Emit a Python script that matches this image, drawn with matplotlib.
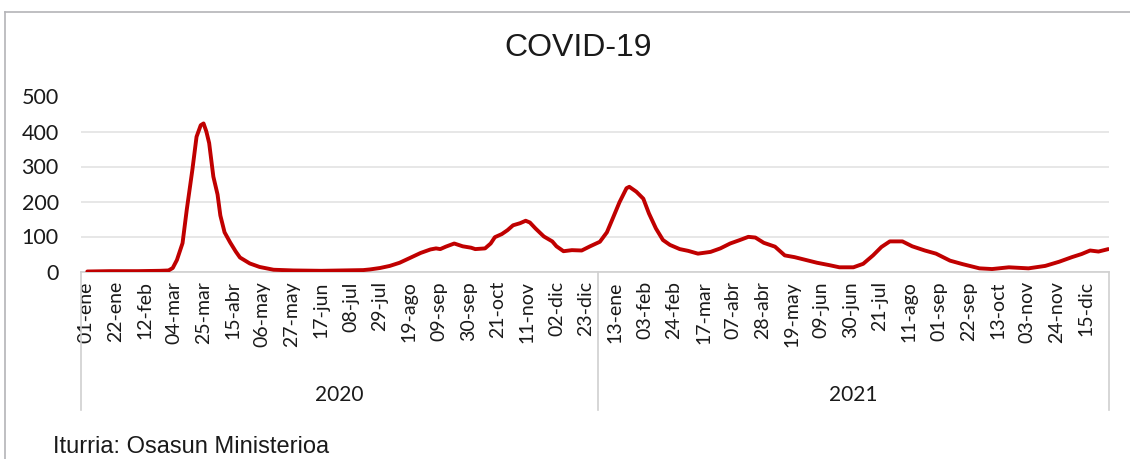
import datetime as dt
import matplotlib
matplotlib.use("Agg")
import matplotlib.pyplot as plt
from matplotlib.lines import Line2D
import matplotlib.transforms as mtransforms

# ---- data (day offset from 2020-01-01, value) ----
days = [1, 17, 37, 53, 59, 62, 65, 69, 72, 76, 79, 82, 84, 86, 88, 91, 94, 96, 99, 103,
        107, 110, 117, 124, 129, 134, 148, 168, 183, 198, 203, 210, 217, 224, 231, 239,
        246, 250, 253, 257, 263, 269, 275, 278, 285, 289, 292, 297, 301, 305, 310, 314,
        317, 321, 327, 333, 336, 341, 347, 354, 360, 367, 372, 376, 381, 386, 388, 393,
        398, 402, 407, 412, 417, 424, 430, 437, 446, 453, 460, 467, 473, 478, 484, 492,
        499, 506, 514, 522, 531, 538, 548, 555, 562, 568, 574, 583, 590, 599, 607, 617,
        626, 638, 647, 659, 673, 685, 695, 704, 711, 717, 723, 730]
values = [0, 1, 1, 2, 3, 10, 33, 81, 176, 290, 385, 418, 423, 400, 367, 271, 220, 160, 112, 83,
          57, 40, 23, 13, 9, 5, 3, 2, 3, 4, 6, 10, 16, 25, 38, 53,
          63, 66, 64, 71, 80, 72, 68, 64, 66, 80, 98, 107, 118, 132, 138, 145,
          140, 123, 100, 86, 72, 58, 61, 60, 72, 85, 112, 150, 198, 238, 242, 228,
          208, 166, 123, 90, 76, 64, 59, 51, 56, 66, 80, 90, 99, 97, 82, 71,
          46, 41, 33, 25, 18, 12, 12, 22, 46, 70, 86, 86, 72, 60, 51, 31,
          21, 9, 7, 12, 9, 16, 28, 41, 50, 60, 57, 64]

months = ["ene", "feb", "mar", "abr", "may", "jun", "jul", "ago", "sep", "oct", "nov", "dic"]
start = dt.date(2020, 1, 1)
n_days = 731
tick_pos = list(range(0, n_days, 21))
tick_labels = [f"{(start + dt.timedelta(d)).day:02d}-{months[(start + dt.timedelta(d)).month - 1]}"
               for d in tick_pos]
years = ["2020", "2021"]
year_bounds = [-3.5, 365.5, 730.5]

title = "COVID-19"
source = "Iturria: Osasun Ministerioa"

W, H = 1130, 459
fig = plt.figure(figsize=(W / 100, H / 100), dpi=100)

def fx(px):
    return px / W

def fy(py):
    return 1 - py / H

ax_left, ax_right = 81, 1109
ax_top, ax_bot = 96.5, 271.5
ax = fig.add_axes([fx(ax_left), fy(ax_bot), fx(ax_right - ax_left), (ax_bot - ax_top) / H])

ax.plot(days, values, color="#C00000", lw=2.8, solid_capstyle="round", solid_joinstyle="round", zorder=3)
ax.set_xlim(year_bounds[0], year_bounds[-1])
ax.set_ylim(0, 500)
ax.set_yticks([0, 100, 200, 300, 400, 500])
ax.yaxis.grid(True, color="#e3e3e3", lw=1.2)
ax.set_axisbelow(True)
for s in ["top", "right", "left"]:
    ax.spines[s].set_visible(False)
ax.spines["bottom"].set_color("#d0d0d0")
ax.spines["bottom"].set_linewidth(1.2)

ax.set_xticks(tick_pos)
ax.set_xticklabels(tick_labels, rotation=90, fontsize=14, family="Lato", color="#1a1a1a")
ax.tick_params(axis="x", length=0, pad=7)
ax.tick_params(axis="y", length=0, pad=16, labelsize=15.5)
for lab in ax.get_yticklabels():
    lab.set_family("Lato")
    lab.set_color("#1a1a1a")

# year group separators and labels
trans = mtransforms.blended_transform_factory(ax.transData, ax.transAxes)
y_low = (ax_bot - 410) / (ax_bot - ax_top)
for b in year_bounds:
    ax.add_line(Line2D([b, b], [0, y_low], transform=trans, color="#d0d0d0", lw=1.2, clip_on=False))
y_year = (ax_bot - 395) / (ax_bot - ax_top)
for i, yr in enumerate(years):
    cx = (year_bounds[i] + year_bounds[i + 1]) / 2
    ax.text(cx, y_year, yr, transform=trans, ha="center", va="center", fontsize=15,
            family="Lato", color="#1a1a1a")

fig.text(fx(578), fy(48), title, ha="center", va="center", fontsize=23,
         family="Liberation Sans", color="#1a1a1a")
fig.text(fx(53), fy(447), source, ha="left", va="center", fontsize=17,
         family="Liberation Sans", color="#1a1a1a")

# outer frame (top and left edges)
fig.add_artist(Line2D([fx(5), 1], [fy(12), fy(12)], color="#b4b4b8", lw=1.2))
fig.add_artist(Line2D([fx(5), fx(5)], [fy(12), 0], color="#b4b4b8", lw=1.2))

fig.savefig("out.png", dpi=100)
